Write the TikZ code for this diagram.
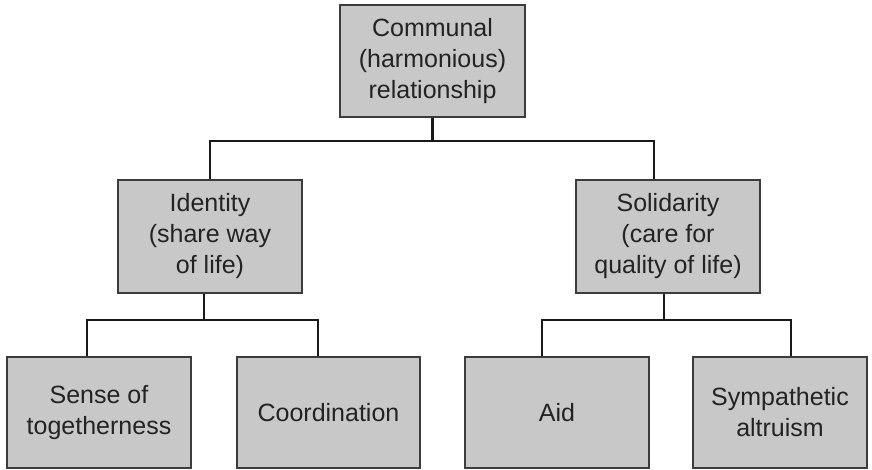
\documentclass[tikz,border=0pt]{standalone}
\usepackage{fontspec}
\setmainfont{Liberation Sans}
\definecolor{boxfill}{RGB}{200,200,200}
\definecolor{boxline}{RGB}{60,60,60}
\definecolor{txt}{RGB}{35,35,35}
\begin{document}
\begin{tikzpicture}[x=1pt,y=-1pt,
  box/.style={draw=boxline, fill=boxfill, line width=1.6pt, inner sep=0pt,
    align=center, text=txt, font=\fontsize{25}{31}\selectfont},
  conn/.style={draw=black!90, line width=2.3pt}]
\useasboundingbox (0,0) rectangle (872,470);
\node[box, minimum width=185pt, minimum height=112pt] (top) at (432.5,61) {Communal\\(harmonious)\\relationship};
\node[box, minimum width=184pt, minimum height=113pt] (idn) at (210,236.5) {Identity\\(share way\\of life)};
\node[box, minimum width=184pt, minimum height=113pt] (sol) at (668,236.5) {Solidarity\\(care for\\quality of life)};
\node[box, minimum width=184pt, minimum height=111pt] (b1) at (99,412.5) {Sense of\\togetherness};
\node[box, minimum width=183pt, minimum height=111pt] (b2) at (328.5,412.5) {Coordination};
\node[box, minimum width=184pt, minimum height=111pt] (b3) at (557,412.5) {Aid};
\node[box, minimum width=174pt, minimum height=111pt] (b4) at (780,412.5) {Sympathetic\\altruism};
% connectors
\draw[conn] (top.south) -- ++(0,23) coordinate (j1);
\draw[conn] (j1) -| (idn.north);
\draw[conn] (j1) -| ([xshift=-14pt]sol.north);
\draw[conn] ([xshift=-6pt]idn.south) -- ++(0,26) coordinate (j2);
\draw[conn] (j2) -| ([xshift=-12pt]b1.north);
\draw[conn] (j2) -| ([xshift=-10.5pt]b2.north);
\draw[conn] ([xshift=-4pt]sol.south) -- ++(0,26) coordinate (j3);
\draw[conn] (j3) -| ([xshift=-15pt]b3.north);
\draw[conn] (j3) -| ([xshift=11pt]b4.north);
\end{tikzpicture}
\end{document}
